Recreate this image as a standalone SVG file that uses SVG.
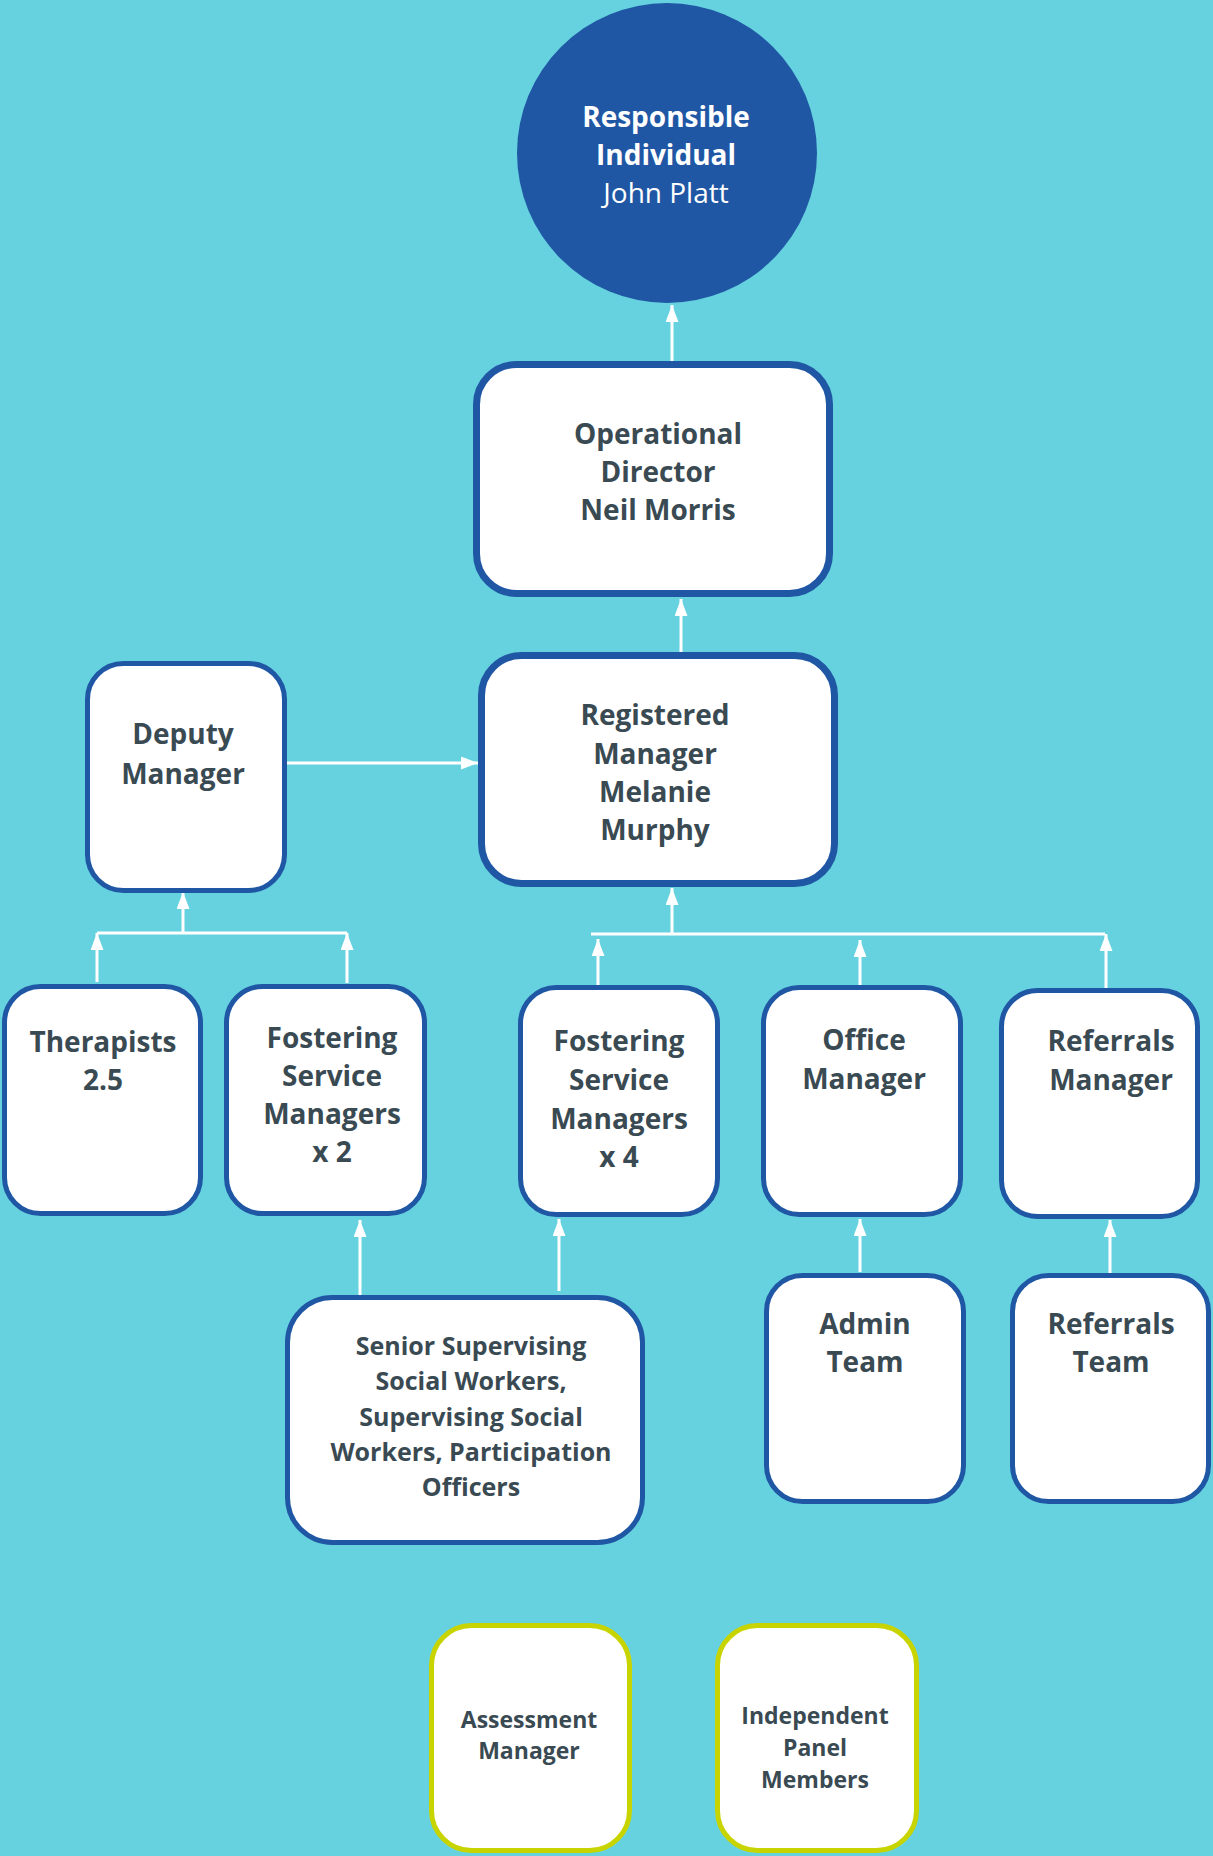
<svg xmlns="http://www.w3.org/2000/svg" width="1213" height="1856" viewBox="0 0 1213 1856">
<style>
.box{fill:#fff;stroke:#1f57a5;stroke-width:5}
.big{stroke-width:7}
.alt{fill:#fff;stroke:#c8d400;stroke-width:5}
.t{font-family:"Open Sans","Noto Sans",sans-serif;font-weight:700;fill:#3a4a53;text-anchor:middle}
.m{font-size:28px}
.s{font-size:25px}
.xs{font-size:23px}
.w{font-family:"Open Sans","Noto Sans",sans-serif;fill:#fff;text-anchor:middle;font-size:28px}
.c{stroke:#fff;stroke-width:3;fill:none}
.a{marker-end:url(#ah)}
</style>
<defs>
<marker id="ah" markerUnits="userSpaceOnUse" markerWidth="18" markerHeight="14" refX="17" refY="6.5" orient="auto">
<path d="M0,0 L17,6.5 L0,13 z" fill="#fff"/>
</marker>
</defs>
<rect x="0" y="0" width="1213" height="1856" fill="#66d2df"/>

<g id="connectors">
<line class="c a" x1="672" y1="362" x2="672" y2="305"/>
<line class="c a" x1="681" y1="652" x2="681" y2="599"/>
<line class="c a" x1="287" y1="763" x2="478" y2="763"/>
<line class="c" x1="97" y1="933" x2="347" y2="933"/>
<line class="c a" x1="183" y1="933" x2="183" y2="892"/>
<line class="c a" x1="97" y1="982" x2="97" y2="933"/>
<line class="c a" x1="347" y1="983" x2="347" y2="933"/>
<line class="c" x1="591" y1="934" x2="1105" y2="934"/>
<line class="c a" x1="672" y1="934" x2="672" y2="888"/>
<line class="c a" x1="598" y1="985" x2="598" y2="939"/>
<line class="c a" x1="860" y1="985" x2="860" y2="940"/>
<line class="c a" x1="1106" y1="988" x2="1106" y2="934"/>
<line class="c a" x1="860" y1="1272" x2="860" y2="1219"/>
<line class="c a" x1="1110" y1="1273" x2="1110" y2="1220"/>
<line class="c a" x1="360" y1="1295" x2="360" y2="1220"/>
<line class="c a" x1="559" y1="1291" x2="559" y2="1219"/>
</g>

<g id="responsible-individual">
<circle cx="667" cy="153" r="150" fill="#1f57a5"/>
<text class="w" x="666" y="127" font-weight="700">Responsible</text>
<text class="w" x="666" y="165" font-weight="700">Individual</text>
<text class="w" x="666" y="203">John Platt</text>
</g>

<g id="operational-director">
<rect class="box big" x="476.5" y="364.5" width="353" height="229" rx="40"/>
<text class="t m" x="658" y="444">Operational</text>
<text class="t m" x="658" y="482">Director</text>
<text class="t m" x="658" y="520">Neil Morris</text>
</g>

<g id="registered-manager">
<rect class="box big" x="481.5" y="655.5" width="353" height="228" rx="40"/>
<text class="t m" x="655" y="725">Registered</text>
<text class="t m" x="655" y="764">Manager</text>
<text class="t m" x="655" y="802">Melanie</text>
<text class="t m" x="655" y="840">Murphy</text>
</g>

<g id="deputy-manager">
<rect class="box" x="87.5" y="663.5" width="197" height="227" rx="36"/>
<text class="t m" x="183" y="744">Deputy</text>
<text class="t m" x="183" y="784">Manager</text>
</g>

<g id="therapists">
<rect class="box" x="4.5" y="986.5" width="196" height="227" rx="36"/>
<text class="t m" x="103" y="1052">Therapists</text>
<text class="t m" x="103" y="1090">2.5</text>
</g>

<g id="fsm-x2">
<rect class="box" x="226.5" y="986.5" width="198" height="227" rx="36"/>
<text class="t m" x="332" y="1048">Fostering</text>
<text class="t m" x="332" y="1086">Service</text>
<text class="t m" x="332" y="1124">Managers</text>
<text class="t m" x="332" y="1162">x 2</text>
</g>

<g id="fsm-x4">
<rect class="box" x="520.5" y="987.5" width="197" height="227" rx="36"/>
<text class="t m" x="619" y="1051">Fostering</text>
<text class="t m" x="619" y="1090">Service</text>
<text class="t m" x="619" y="1129">Managers</text>
<text class="t m" x="619" y="1167">x 4</text>
</g>

<g id="office-manager">
<rect class="box" x="763.5" y="987.5" width="197" height="227" rx="36"/>
<text class="t m" x="864" y="1050">Office</text>
<text class="t m" x="864" y="1089">Manager</text>
</g>

<g id="referrals-manager">
<rect class="box" x="1001.5" y="990.5" width="196" height="226" rx="36"/>
<text class="t m" x="1111" y="1051">Referrals</text>
<text class="t m" x="1111" y="1090">Manager</text>
</g>

<g id="admin-team">
<rect class="box" x="766.5" y="1275.5" width="197" height="226" rx="36"/>
<text class="t m" x="865" y="1334">Admin</text>
<text class="t m" x="865" y="1372">Team</text>
</g>

<g id="referrals-team">
<rect class="box" x="1012.5" y="1275.5" width="196" height="226" rx="36"/>
<text class="t m" x="1111" y="1334">Referrals</text>
<text class="t m" x="1111" y="1372">Team</text>
</g>

<g id="social-workers">
<rect class="box" x="287.5" y="1297.5" width="355" height="245" rx="45"/>
<text class="t s" x="471" y="1355">Senior Supervising</text>
<text class="t s" x="471" y="1390">Social Workers,</text>
<text class="t s" x="471" y="1426">Supervising Social</text>
<text class="t s" x="471" y="1461">Workers, Participation</text>
<text class="t s" x="471" y="1496">Officers</text>
</g>

<g id="assessment-manager">
<rect class="alt" x="431.5" y="1625.5" width="198" height="225" rx="40"/>
<text class="t xs" x="529" y="1728">Assessment</text>
<text class="t xs" x="529" y="1759">Manager</text>
</g>

<g id="independent-panel">
<rect class="alt" x="717.5" y="1625.5" width="199" height="225" rx="40"/>
<text class="t xs" x="815" y="1724">Independent</text>
<text class="t xs" x="815" y="1756">Panel</text>
<text class="t xs" x="815" y="1788">Members</text>
</g>
</svg>
